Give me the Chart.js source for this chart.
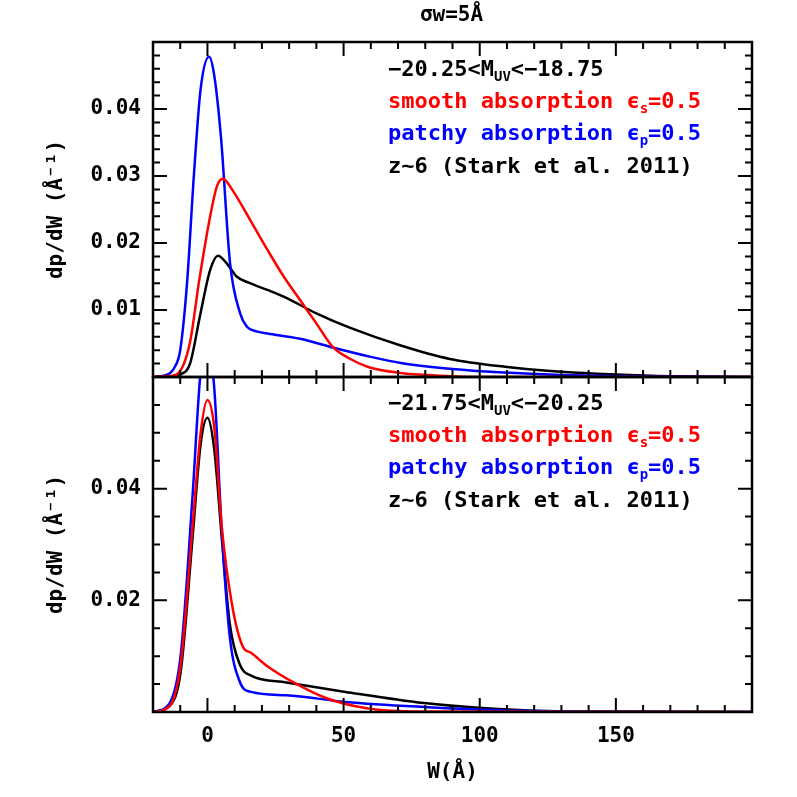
<!DOCTYPE html>
<html>
<head>
<meta charset="utf-8">
<script src="https://cdn.jsdelivr.net/npm/chart.js@4/dist/chart.umd.min.js"></script>
<style>
  body { margin: 0; background: #fff; }
  #wrap { position: relative; width: 797px; height: 797px; }
  canvas { position: absolute; left: 0; top: 0; }
  .t { position: absolute; font: bold 22px "DejaVu Sans Mono", monospace; white-space: nowrap; }
  .t sub { font-size: 14px; }
</style>
</head>
<body>
<div id="wrap">
  <canvas id="top" width="797" height="797"></canvas>
  <canvas id="bot" width="797" height="797"></canvas>
  <div class="t" style="left:388px;top:56px;color:#000">−20.25&lt;M<sub>UV</sub>&lt;−18.75</div>
  <div class="t" style="left:388px;top:88px;color:#f00">smooth absorption ϵ<sub>s</sub>=0.5</div>
  <div class="t" style="left:388px;top:120px;color:#00f">patchy absorption ϵ<sub>p</sub>=0.5</div>
  <div class="t" style="left:388px;top:153px;color:#000">z~6 (Stark et al. 2011)</div>
  <div class="t" style="left:388px;top:390px;color:#000">−21.75&lt;M<sub>UV</sub>&lt;−20.25</div>
  <div class="t" style="left:388px;top:422px;color:#f00">smooth absorption ϵ<sub>s</sub>=0.5</div>
  <div class="t" style="left:388px;top:454px;color:#00f">patchy absorption ϵ<sub>p</sub>=0.5</div>
  <div class="t" style="left:388px;top:487px;color:#000">z~6 (Stark et al. 2011)</div>
</div>
<script>
// top panel: -20.25 < M_UV < -18.75
const topSmoothX = [-20, -15, -11, -6.5, -3, 1, 3.5, 5.7, 9, 15.6, 22, 28, 34, 40, 46, 52, 59, 71, 85, 100, 200];
const topSmoothY = [0, 0.0001, 0.0005, 0.005, 0.0145, 0.024, 0.0285, 0.0296, 0.028, 0.0235, 0.019, 0.015, 0.0115, 0.008, 0.0045, 0.0028, 0.0015, 0.0006, 0.0002, 0, 0];
const topPatchyX = [-20, -15, -12, -10, -7.5, -5, -2.5, 0.6, 2.5, 5, 8.3, 12, 14.5, 18, 22, 34, 46, 60, 71, 90, 107, 130, 200];
const topPatchyY = [0, 0.0003, 0.0015, 0.004, 0.014, 0.030, 0.043, 0.0478, 0.045, 0.0356, 0.017, 0.0095, 0.0075, 0.0068, 0.0065, 0.0057, 0.0044, 0.003, 0.0021, 0.0012, 0.0007, 0.0003, 0];
const topStarkX = [-20, -14, -10, -6.4, -2.8, 1, 3.9, 7, 10.7, 15.6, 22, 28, 40, 52, 71, 89, 110, 126, 163, 200];
const topStarkY = [0, 0.0001, 0.0004, 0.002, 0.009, 0.016, 0.0181, 0.017, 0.015, 0.014, 0.013, 0.012, 0.0095, 0.0074, 0.0047, 0.0027, 0.0015, 0.0009, 0.0002, 0];

// bottom panel: -21.75 < M_UV < -20.25
const botSmoothX = [-20, -14, -9.8, -5.5, -2.5, 0, 2.5, 5.3, 9, 13, 16, 22, 32, 43.5, 58, 75, 200];
const botSmoothY = [0, 0.001, 0.0086, 0.033, 0.050, 0.0559, 0.051, 0.033, 0.0193, 0.0117, 0.0106, 0.0082, 0.0052, 0.0025, 0.0007, 0.0001, 0];
const botPatchyX = [-20, -14, -9.8, -5.5, -2.5, 0, 2.5, 5.3, 8.2, 11.8, 16, 29, 50.7, 79.5, 108, 140, 200];
const botPatchyY = [0, 0.0015, 0.0103, 0.0385, 0.061, 0.066, 0.058, 0.032, 0.0135, 0.0055, 0.0036, 0.003, 0.0018, 0.0009, 0.0003, 0.0001, 0];
const botStarkX = [-20, -14, -9.8, -5.5, -2.5, 0, 2.5, 5.3, 8.2, 11.8, 16, 29, 50.7, 79.5, 101, 123, 150, 200];
const botStarkY = [0, 0.001, 0.0073, 0.031, 0.048, 0.0527, 0.047, 0.031, 0.0158, 0.0086, 0.0065, 0.0053, 0.0036, 0.0016, 0.0007, 0.0002, 0.0001, 0];

const xMin = -20, xMax = 200;

function pts(xs, ys) { return xs.map((x, i) => ({ x: x, y: ys[i] })); }

function frame(opts) {
  return {
    id: 'frame',
    afterDraw(chart) {
      const c = chart.ctx, a = chart.chartArea, sx = chart.scales.x, sy = chart.scales.y;
      c.save();
      c.strokeStyle = '#000'; c.lineWidth = 2.5;
      c.strokeRect(a.left, a.top, a.right - a.left, a.bottom - a.top);
      c.lineWidth = 2;
      for (let v = xMin; v <= xMax; v += 10) {
        const p = sx.getPixelForValue(v), len = v % 50 === 0 ? 14 : 7;
        c.beginPath();
        c.moveTo(p, a.bottom); c.lineTo(p, a.bottom - len);
        c.moveTo(p, a.top); c.lineTo(p, a.top + len);
        c.stroke();
      }
      for (let v = opts.minor; v < opts.max - 1e-9; v += opts.minor) {
        const p = sy.getPixelForValue(v);
        const major = Math.abs(v / opts.major - Math.round(v / opts.major)) < 1e-6;
        const len = major ? 14 : 7;
        c.beginPath();
        c.moveTo(a.left, p); c.lineTo(a.left + len, p);
        c.moveTo(a.right, p); c.lineTo(a.right - len, p);
        c.stroke();
      }
      c.fillStyle = '#000';
      c.font = 'bold 21px "DejaVu Sans Mono", monospace';
      c.textAlign = 'right'; c.textBaseline = 'middle';
      opts.labels.forEach(v => c.fillText(String(v), a.left - 12, sy.getPixelForValue(v)));
      if (opts.xLabels) {
        c.textAlign = 'center'; c.textBaseline = 'top';
        opts.xLabels.forEach(v => c.fillText(String(v), sx.getPixelForValue(v), a.bottom + 14));
        c.fillText('W(Å)', (a.left + a.right) / 2, a.bottom + 50);
      }
      if (opts.title) {
        c.textAlign = 'center'; c.textBaseline = 'middle';
        c.fillText(opts.title, (a.left + a.right) / 2 - 1, 16);
      }
      c.save();
      c.translate(57, (a.top + a.bottom) / 2);
      c.rotate(-Math.PI / 2);
      c.textAlign = 'center'; c.textBaseline = 'middle';
      c.fillText('dp/dW (Å⁻¹)', 0, 0);
      c.restore();
      c.restore();
    }
  };
}

function panel(id, sets, yMax, pad, opts) {
  const colors = ['#ff0000', '#0000ff', '#000000'];
  new Chart(document.getElementById(id), {
    type: 'line',
    data: {
      datasets: sets.map((s, i) => ({
        data: pts(s[0], s[1]),
        borderColor: colors[i], borderWidth: 2.5,
        pointRadius: 0, cubicInterpolationMode: 'monotone', fill: false
      }))
    },
    options: {
      responsive: false, animation: false,
      layout: { padding: pad },
      plugins: { legend: { display: false }, tooltip: { enabled: false } },
      scales: {
        x: { type: 'linear', min: xMin, max: xMax, display: false },
        y: { type: 'linear', min: 0, max: yMax, display: false }
      }
    },
    plugins: [frame(Object.assign({ max: yMax }, opts))]
  });
}

panel('top', [[topSmoothX, topSmoothY], [topPatchyX, topPatchyY], [topStarkX, topStarkY]], 0.05,
  { left: 153, right: 45, top: 42, bottom: 420 },
  { minor: 0.002, major: 0.01, labels: [0.01, 0.02, 0.03, 0.04], title: 'σw=5Å' });
panel('bot', [[botSmoothX, botSmoothY], [botPatchyX, botPatchyY], [botStarkX, botStarkY]], 0.06,
  { left: 153, right: 45, top: 377, bottom: 85 },
  { minor: 0.005, major: 0.02, labels: [0.02, 0.04], xLabels: [0, 50, 100, 150] });
</script>
</body>
</html>
